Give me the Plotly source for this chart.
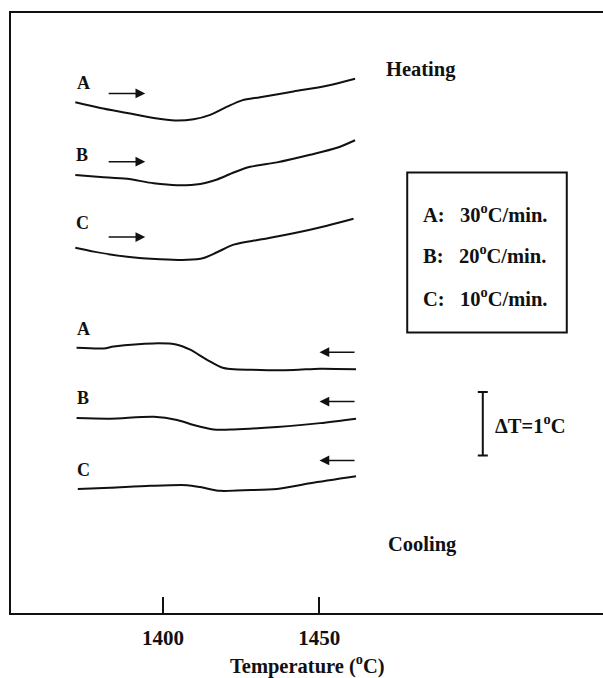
import plotly.graph_objects as go

# ---- data (temperature in °C, signal in °C of ΔT on an arbitrary offset axis) ----
heat_A_T = [1371.9, 1379.9, 1388.5, 1397.0, 1403.9, 1409.8, 1415.1, 1420.5, 1425.3, 1431.1, 1441.8, 1452.5, 1461.5]
heat_A_y = [8.07, 7.98, 7.90, 7.82, 7.78, 7.80, 7.87, 8.00, 8.10, 8.15, 8.24, 8.33, 8.44]

heat_B_T = [1371.9, 1379.9, 1388.5, 1397.0, 1404.5, 1411.9, 1417.3, 1422.6, 1427.9, 1436.5, 1447.1, 1455.7, 1461.5]
heat_B_y = [6.92, 6.89, 6.86, 6.79, 6.76, 6.78, 6.85, 6.96, 7.05, 7.12, 7.24, 7.35, 7.47]

heat_C_T = [1371.9, 1377.8, 1388.5, 1399.1, 1407.7, 1413.0, 1417.3, 1422.6, 1431.1, 1441.8, 1452.5, 1461.0]
heat_C_y = [5.77, 5.71, 5.63, 5.59, 5.58, 5.61, 5.70, 5.82, 5.90, 6.00, 6.12, 6.23]

cool_A_T = [1372.3, 1381.0, 1384.2, 1397.0, 1404.5, 1408.7, 1414.1, 1419.4, 1431.1, 1441.8, 1450.3, 1461.8]
cool_A_y = [4.19, 4.18, 4.21, 4.26, 4.24, 4.16, 4.00, 3.87, 3.84, 3.84, 3.86, 3.85]

cool_B_T = [1372.3, 1383.1, 1397.0, 1404.5, 1409.8, 1416.2, 1422.6, 1436.5, 1450.3, 1461.8]
cool_B_y = [3.08, 3.07, 3.10, 3.05, 2.97, 2.90, 2.90, 2.94, 3.00, 3.07]

cool_C_T = [1372.7, 1383.1, 1395.9, 1407.7, 1411.9, 1418.3, 1425.8, 1436.5, 1447.1, 1461.8]
cool_C_y = [1.96, 1.98, 2.01, 2.02, 1.99, 1.93, 1.94, 1.96, 2.05, 2.16]

x_tick_vals = [1400, 1450]
x_tick_text = ["1400", "1450"]
x_title = "Temperature (<sup>o</sup>C)"
rate_labels = ["A:\u00a0\u00a0 30<sup>o</sup>C/min.",
               "B:\u00a0\u00a0 20<sup>o</sup>C/min.",
               "C:\u00a0\u00a0 10<sup>o</sup>C/min."]
delta_T = 1.0

FONT = "Liberation Serif"
BLACK = "#111111"

fig = go.Figure()

curves = [
    (heat_A_T, heat_A_y), (heat_B_T, heat_B_y), (heat_C_T, heat_C_y),
    (cool_A_T, cool_A_y), (cool_B_T, cool_B_y), (cool_C_T, cool_C_y),
]
for xs, ys in curves:
    fig.add_trace(go.Scatter(x=xs, y=ys, mode="lines", line=dict(color=BLACK, width=2, shape="spline", smoothing=0.8),
                             showlegend=False, hoverinfo="skip"))

# scale bar ΔT = 1 °C
fig.add_trace(go.Scatter(x=[1502.4], y=[2.99], mode="markers", marker=dict(size=1, color="rgba(0,0,0,0)"),
                         error_y=dict(type="constant", value=delta_T / 2, color=BLACK, thickness=2, width=5),
                         showlegend=False, hoverinfo="skip"))

annotations = []
letter_font = dict(family=FONT, size=18, color=BLACK, weight="bold")
big_font = dict(family=FONT, size=20.5, color=BLACK, weight="bold")

# curve letters
for txt, x, y in [("A", 1374.6, 8.37), ("B", 1374.1, 7.24), ("C", 1374.1, 6.16),
                  ("A", 1374.6, 4.48), ("B", 1374.4, 3.40), ("C", 1374.4, 2.26)]:
    annotations.append(dict(x=x, y=y, xref="x", yref="y", text=txt, showarrow=False, font=letter_font))

# heating arrows (pointing right)
for y in [8.21, 7.13, 5.94]:
    annotations.append(dict(x=1394.3, y=y, ax=1382.1, ay=y, xref="x", yref="y", axref="x", ayref="y",
                            text="", showarrow=True, arrowhead=2, arrowsize=1.3, arrowwidth=1.5, arrowcolor=BLACK))
# cooling arrows (pointing left)
for y in [4.12, 3.34, 2.41]:
    annotations.append(dict(x=1450.1, y=y, ax=1461.8, ay=y, xref="x", yref="y", axref="x", ayref="y",
                            text="", showarrow=True, arrowhead=2, arrowsize=1.3, arrowwidth=1.5, arrowcolor=BLACK))

annotations.append(dict(x=1482.6, y=8.58, xref="x", yref="y", text="Heating", showarrow=False, font=big_font))
annotations.append(dict(x=1483.0, y=1.08, xref="x", yref="y", text="Cooling", showarrow=False, font=big_font))

for txt, y in zip(rate_labels, [6.32, 5.67, 5.00]):
    annotations.append(dict(x=1482.5, y=y, xref="x", yref="y", text=txt, showarrow=False, xanchor="left",
                            font=big_font))

annotations.append(dict(x=1505.8, y=2.99, xref="x", yref="y", text="\u0394T=1<sup>o</sup>C", showarrow=False,
                        xanchor="left", font=big_font))

# x-axis title placed as a paper annotation below the tick labels
annotations.append(dict(x=0.5, y=-0.086, xref="paper", yref="paper", text=x_title, showarrow=False,
                        yanchor="middle", font=big_font))

fig.add_shape(type="rect", xref="x", yref="y", x0=1478.2, x1=1529.3, y0=4.43, y1=6.96,
              line=dict(color=BLACK, width=2))

fig.update_layout(
    width=603, height=678,
    margin=dict(l=11, r=0, t=13, b=65, autoexpand=False),
    paper_bgcolor="white", plot_bgcolor="white",
    annotations=annotations,
    font=dict(family=FONT, color=BLACK),
)
fig.update_xaxes(range=[1351.3, 1540.9], tickvals=x_tick_vals, ticktext=x_tick_text,
                 ticks="inside", ticklen=16, tickwidth=2, tickcolor=BLACK,
                 showline=True, linewidth=2, linecolor=BLACK, mirror=True,
                 showgrid=False, zeroline=False, automargin=False,
                 tickfont=dict(family=FONT, size=21, color=BLACK, weight="bold"),
                 ticklabelstandoff=5)
fig.update_yaxes(range=[0, 9.48], showline=True, linewidth=2, linecolor=BLACK, mirror=False,
                 showticklabels=False, ticks="", showgrid=False, zeroline=False, automargin=False)

fig.write_html("out.html", config={"displayModeBar": False},
               post_script="document.body.style.margin='0';document.body.style.overflow='hidden';")
